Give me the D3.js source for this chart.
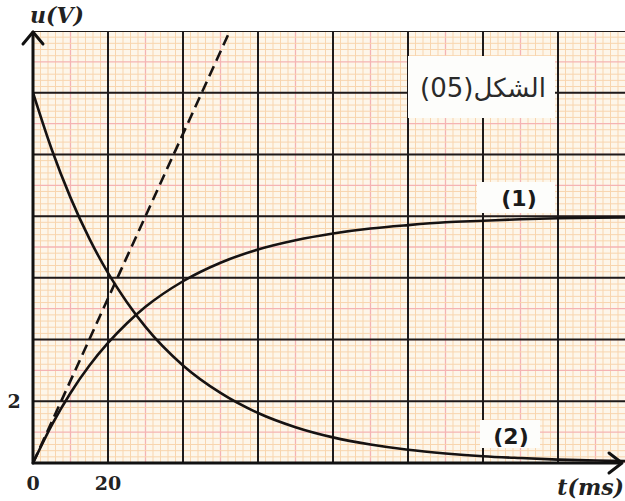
<!DOCTYPE html>
<html>
<head>
<meta charset="utf-8">
<script src="https://cdn.jsdelivr.net/npm/d3@7"></script>
<style>
  body { margin: 0; background: #fff; }
  svg { display: block; }
</style>
</head>
<body>
<div id="chart"></div>
<script>
// values (t in ms, u in V)
const tValues = [0, 5, 10, 15, 20, 25, 30, 40, 50, 60, 70, 80, 90, 100, 110, 120, 130, 140, 150, 158];
const curve1 = [0, 1.23, 2.27, 3.15, 3.89, 4.52, 5.06, 5.89, 6.49, 6.92, 7.22, 7.44, 7.60, 7.71, 7.80, 7.85, 7.90, 7.93, 7.95, 7.96];
const curve2 = [12, 10.16, 8.60, 7.28, 6.16, 5.22, 4.41, 3.16, 2.27, 1.62, 1.16, 0.83, 0.60, 0.43, 0.31, 0.22, 0.16, 0.11, 0.08, 0.06];
const tangentT = [0, 52.5];
const tangentU = [0, 14];
const xTickValues = [0, 20];
const xTickLabels = ["0", "20"];
const yTickValues = [2];
const yTickLabels = ["2"];

const width = 625, height = 501;
const x = d3.scaleLinear().domain([0, 158]).range([33, 625.5]);
const y = d3.scaleLinear().domain([0, 14]).range([463, 31]);

const svg = d3.select('#chart').append('svg')
    .attr('width', width)
    .attr('height', height);

svg.append('defs').append('clipPath')
    .attr('id', 'paper')
    .append('rect')
    .attr('x', x(0)).attr('y', y(14))
    .attr('width', width - x(0)).attr('height', y(0) - y(14));

// graph paper
const paper = svg.append('g').attr('clip-path', 'url(#paper)');
paper.append('rect')
    .attr('x', x(0)).attr('y', y(14))
    .attr('width', width - x(0)).attr('height', y(0) - y(14))
    .attr('fill', '#fdf6ea');

const minorT = d3.range(0, 160.01, 2);
const minorU = d3.range(0, 14.01, 0.2);

paper.selectAll('line.mx').data(minorT).enter().append('line')
    .attr('x1', d => x(d)).attr('x2', d => x(d))
    .attr('y1', y(14)).attr('y2', y(0))
    .attr('stroke', d => (Math.round(d) % 10 === 0 ? '#f5b3b3' : '#f8d5ae'))
    .attr('stroke-width', d => (Math.round(d) % 10 === 0 ? 1.3 : 1));

paper.selectAll('line.my').data(minorU).enter().append('line')
    .attr('x1', x(0)).attr('x2', width)
    .attr('y1', d => y(d)).attr('y2', d => y(d))
    .attr('stroke', d => (Math.abs(d - Math.round(d)) < 0.01 ? '#f5b3b3' : '#f8d5ae'))
    .attr('stroke-width', d => (Math.abs(d - Math.round(d)) < 0.01 ? 1.3 : 1));

// major grid
const majorT = d3.range(20, 160, 20);
const majorU = d3.range(2, 14.01, 2);
paper.selectAll('line.MX').data(majorT).enter().append('line')
    .attr('x1', d => x(d)).attr('x2', d => x(d))
    .attr('y1', y(14)).attr('y2', y(0))
    .attr('stroke', '#1e1a1a').attr('stroke-width', 2);
paper.selectAll('line.MY').data(majorU).enter().append('line')
    .attr('x1', x(0)).attr('x2', width)
    .attr('y1', d => y(d)).attr('y2', d => y(d))
    .attr('stroke', '#1e1a1a').attr('stroke-width', 2);

// label boxes (white patches on the paper)
const boxes = [
    { x0: 408, y0: 56, x1: 555, y1: 118 },
    { x0: 477, y0: 182, x1: 555, y1: 213 },
    { x0: 480, y0: 420, x1: 540, y1: 448 }
];
svg.selectAll('rect.box').data(boxes).enter().append('rect')
    .attr('x', d => d.x0).attr('y', d => d.y0)
    .attr('width', d => d.x1 - d.x0).attr('height', d => d.y1 - d.y0)
    .attr('fill', '#fdfdfb');

// curves
const line = d3.line()
    .x(d => x(d[0]))
    .y(d => y(d[1]))
    .curve(d3.curveMonotoneX);

const curves = svg.append('g').attr('clip-path', 'url(#paper)');
curves.append('path')
    .datum(tValues.map((t, i) => [t, curve1[i]]))
    .attr('d', line)
    .attr('fill', 'none').attr('stroke', '#161212').attr('stroke-width', 2.6);
curves.append('path')
    .datum(tValues.map((t, i) => [t, curve2[i]]))
    .attr('d', line)
    .attr('fill', 'none').attr('stroke', '#161212').attr('stroke-width', 2.6);
curves.append('path')
    .datum(tangentT.map((t, i) => [t, tangentU[i]]))
    .attr('d', d3.line().x(d => x(d[0])).y(d => y(d[1])))
    .attr('fill', 'none').attr('stroke', '#161212').attr('stroke-width', 2.6)
    .attr('stroke-dasharray', '11,6');

// axes with arrows
const axes = svg.append('g').attr('stroke', '#111').attr('fill', 'none')
    .attr('stroke-width', 3).attr('stroke-linecap', 'round').attr('stroke-linejoin', 'round');
axes.append('line').attr('x1', x(0)).attr('x2', x(0)).attr('y1', y(0)).attr('y2', y(14) + 1);
axes.append('line').attr('x1', x(0)).attr('x2', 621).attr('y1', y(0)).attr('y2', y(0));
axes.append('path').attr('d', `M${x(0) - 10},${y(14) + 13} L${x(0)},${y(14) + 1} L${x(0) + 10},${y(14) + 13}`);
axes.append('path').attr('d', `M609,${y(0) - 10} L622,${y(0)} L609,${y(0) + 10}`);

// tick labels
const tickFont = '"DejaVu Serif", "Liberation Serif", serif';
svg.selectAll('text.xt').data(xTickValues).enter().append('text')
    .attr('x', d => x(d)).attr('y', 490)
    .attr('text-anchor', 'middle')
    .style('font-family', tickFont).style('font-weight', 'bold').style('font-size', '19px')
    .attr('fill', '#222')
    .text((d, i) => xTickLabels[i]);
svg.selectAll('text.yt').data(yTickValues).enter().append('text')
    .attr('x', 14).attr('y', d => y(d) + 7)
    .attr('text-anchor', 'middle')
    .style('font-family', tickFont).style('font-weight', 'bold').style('font-size', '19px')
    .attr('fill', '#222')
    .text((d, i) => yTickLabels[i]);

// axis titles
svg.append('text').attr('x', 30).attr('y', 23)
    .style('font-family', tickFont).style('font-weight', 'bold').style('font-style', 'italic')
    .style('font-size', '22px').attr('fill', '#222')
    .text('u(V)');
svg.append('text').attr('x', 624).attr('y', 495).attr('text-anchor', 'end')
    .style('font-family', tickFont).style('font-weight', 'bold').style('font-style', 'italic')
    .style('font-size', '22px').attr('fill', '#222')
    .text('t(ms)');

// figure caption and curve labels
svg.append('text').attr('x', 483).attr('y', 97)
    .attr('text-anchor', 'middle')
    .attr('direction', 'rtl')
    .style('font-family', '"DejaVu Sans", sans-serif').style('font-size', '26px')
    .attr('fill', '#2a2a2a')
    .text('الشكل(05)');
svg.append('text').attr('x', 519).attr('y', 206)
    .attr('text-anchor', 'middle')
    .style('font-family', '"DejaVu Sans", sans-serif').style('font-weight', 'bold').style('font-size', '22px')
    .attr('fill', '#1a1a1a')
    .text('(1)');
svg.append('text').attr('x', 511).attr('y', 444)
    .attr('text-anchor', 'middle')
    .style('font-family', '"DejaVu Sans", sans-serif').style('font-weight', 'bold').style('font-size', '22px')
    .attr('fill', '#1a1a1a')
    .text('(2)');
</script>
</body>
</html>
